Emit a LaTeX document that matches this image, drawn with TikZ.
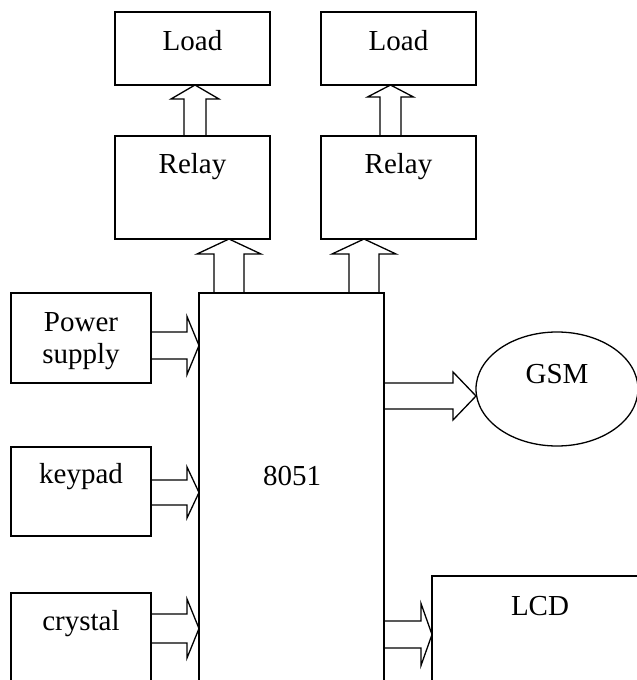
\documentclass[tikz,border=0pt]{standalone}
\usepackage{fontspec}
\setmainfont{Liberation Serif}
\usepackage{tikz}
\usetikzlibrary{positioning,calc,shapes.geometric}

% hollow block arrow: tail, tip, half shaft, half head, head length
\newcommand{\blockarrow}[5]{%
    \draw[hollow]
    ($(#1)!#3!90:(#2)$) --
    ($(#2)!#5!(#1)!#3!90:(#2)$) --
    ($(#2)!#5!(#1)!#4!90:(#2)$) --
    (#2) --
    ($(#2)!#5!(#1)!#4!-90:(#2)$) --
    ($(#2)!#5!(#1)!#3!-90:(#2)$) --
    ($(#1)!#3!-90:(#2)$);
}

\begin{document}
\begin{tikzpicture}[
    x=1pt, y=-1pt,
    every node/.style={font=\fontsize{29}{32}\selectfont},
    block/.style={
        draw=black,
        line width=1.3pt,
        outer sep=0pt,
        inner sep=0pt
    },
    oval/.style={
        ellipse,
        draw=black,
        line width=1.3pt,
        outer sep=0pt,
        inner sep=0pt,
        minimum width=162pt,
        minimum height=114pt
    },
    caption/.style={
        anchor=base,
        align=center,
        inner sep=0pt
    },
    hollow/.style={
        line width=1.3pt,
        line join=miter
    }
]

\useasboundingbox (0,0) rectangle (637,680);
\clip (0,0) rectangle (637,680);

% ==========================================================
% RELAYS AND LOADS
% ==========================================================

\node[block, minimum width=155pt, minimum height=73pt] (load1) at (192.5,48.5) {};
\node[block, minimum width=155pt, minimum height=73pt, right=51pt of load1] (load2) {};

\node[block, minimum width=155pt, minimum height=103pt, below=51pt of load1] (relay1) {};
\node[block, minimum width=155pt, minimum height=103pt, right=51pt of relay1] (relay2) {};

\node[caption] (t-load1) at ([yshift=-38pt]load1.north) {Load};
\node[caption] (t-load2) at ([yshift=-38pt]load2.north) {Load};
\node[caption] (t-relay1) at ([yshift=-37pt]relay1.north) {Relay};
\node[caption] (t-relay2) at ([yshift=-37pt]relay2.north) {Relay};

% ==========================================================
% MICROCONTROLLER
% ==========================================================

\node[block, minimum width=185pt, minimum height=427pt] (mcu) at (291.5,506.5) {};
\node[caption] (t-mcu) at (292,485) {8051};

% ==========================================================
% INPUTS
% ==========================================================

\node[block, minimum width=140pt, minimum height=90pt] (power) at (81,338) {};
\node[block, minimum width=140pt, minimum height=89pt, below=64pt of power] (keypad) {};
\node[block, minimum width=140pt, minimum height=107pt, below=57pt of keypad] (crystal) {};

\node[caption] (t-power) at ([yshift=-70pt]power.north) {Power\\supply};
\node[caption] (t-keypad) at ([yshift=-36pt]keypad.north) {keypad};
\node[caption] (t-crystal) at ([yshift=-37pt]crystal.north) {crystal};

% ==========================================================
% OUTPUTS
% ==========================================================

\node[oval] (gsm) at (557,389) {};
\node[caption] (t-gsm) at (557,383) {GSM};

\node[block, minimum width=268pt, minimum height=144pt, anchor=north west] (lcd) at (432,576) {};
\node[caption] (t-lcd) at (540,615) {LCD};

% ==========================================================
% ARROWS
% ==========================================================

\coordinate (a1) at ([xshift=2.5pt]relay1.north);
\coordinate (b1) at ([xshift=2.5pt]load1.south);
\blockarrow{a1}{b1}{11pt}{24pt}{14pt}

\coordinate (a2) at ([xshift=-8pt]relay2.north);
\coordinate (b2) at ([xshift=-8pt]load2.south);
\blockarrow{a2}{b2}{10.5pt}{23pt}{12pt}

\coordinate (a3) at (mcu.north -| 229,0);
\coordinate (b3) at (relay1.south -| 229,0);
\blockarrow{a3}{b3}{15pt}{32pt}{15pt}

\coordinate (a4) at (mcu.north -| 364,0);
\coordinate (b4) at (relay2.south -| 364,0);
\blockarrow{a4}{b4}{15pt}{32pt}{15pt}

\coordinate (a5) at (power.east |- 0,345.5);
\coordinate (b5) at (mcu.west |- a5);
\blockarrow{a5}{b5}{13.5pt}{29pt}{12pt}

\coordinate (a6) at (keypad.east |- 0,492.5);
\coordinate (b6) at (mcu.west |- a6);
\blockarrow{a6}{b6}{12.5pt}{25.5pt}{12pt}

\coordinate (a7) at (crystal.east |- 0,628.5);
\coordinate (b7) at (mcu.west |- a7);
\blockarrow{a7}{b7}{14.5pt}{29.5pt}{12pt}

\coordinate (a8) at (mcu.east |- 0,396);
\coordinate (b8) at ([yshift=-7pt]gsm.west);
\blockarrow{a8}{b8}{13pt}{24pt}{23pt}

\coordinate (a9) at (mcu.east |- 0,634.5);
\coordinate (b9) at (lcd.west |- a9);
\blockarrow{a9}{b9}{13.5pt}{31pt}{11pt}

\end{tikzpicture}
\end{document}
